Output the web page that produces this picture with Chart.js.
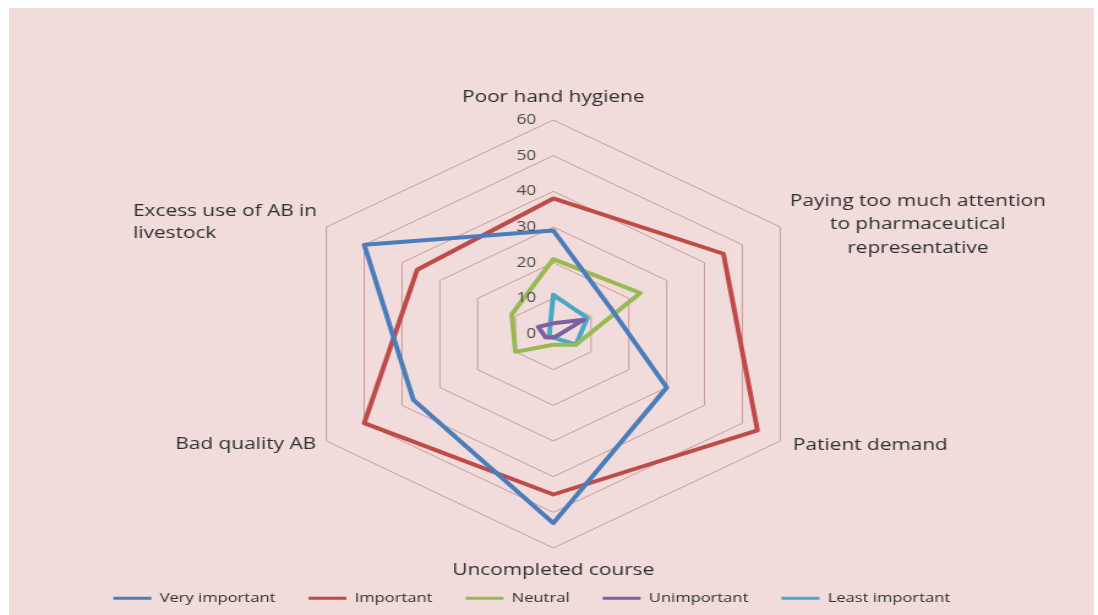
<!DOCTYPE html>
<html><head><meta charset="utf-8">
<script src="https://cdn.jsdelivr.net/npm/chart.js@4.4.1/dist/chart.umd.min.js"></script>
<style>
html,body{margin:0;padding:0;background:#fff;width:1098px;height:615px;overflow:hidden;}
#bg{position:absolute;left:9px;top:8px;width:1085px;height:607px;background:#f2dcdb;}
#wrap{position:absolute;left:0;top:0;width:897px;height:615px;transform-origin:0 0;transform:scaleX(1.22408);}
</style></head><body>
<div id="bg"></div>
<div id="wrap"><canvas id="c" width="897" height="615"></canvas></div>
<script>
const categories = [
  'Poor hand hygiene',
  ['Paying too much attention', 'to pharmaceutical', 'representative'],
  'Patient demand',
  'Uncompleted course',
  'Bad quality AB',
  ['Excess use of AB in', 'livestock']
];
const seriesNames = ['Very important', 'Important', 'Neutral', 'Unimportant', 'Least important'];
const veryImportant  = [29, 15, 30, 53, 37, 50];
const important      = [38, 45, 54, 45, 50, 36];
const neutral        = [21, 23, 6, 3, 10, 11];
const unimportant    = [3, 8, 1, 1, 2, 4];
const leastImportant = [11, 9, 6, 1, 1, 1];
const tickLabels = [0, 10, 20, 30, 40, 50, 60];

const seriesColors = ['#4a7ebb', '#be4b48', '#98b954', '#7d60a0', '#46aac5'];
const seriesValues = [veryImportant, important, neutral, unimportant, leastImportant];

// label placement relative to outer vertex (canvas px)
const labelLayout = [
  {align: 'center', dx: 0,     dy: -23, lh: 23.5},
  {align: 'center', dx: 112.5, dy: -26, lh: 23.5},
  {align: 'left',   dx: 10.5,  dy: 4,   lh: 23.5},
  {align: 'center', dx: 0,     dy: 22,  lh: 23.5},
  {align: 'right',  dx: -8.5,  dy: 3,   lh: 23.5},
  {align: 'left',   dx: -158,  dy: -16, lh: 22}
];

const axisText = {
  id: 'axisText',
  afterDraw(chart) {
    const r = chart.scales.r;
    const ctx = chart.ctx;
    ctx.save();
    ctx.font = '17px "Open Sans"';
    ctx.fillStyle = '#2e2e2e';
    ctx.textBaseline = 'middle';
    categories.forEach((cat, i) => {
      const p = r.getPointPosition(i, r.drawingArea);
      const L = labelLayout[i];
      const lines = Array.isArray(cat) ? cat : [cat];
      ctx.textAlign = L.align;
      lines.forEach((t, j) => ctx.fillText(t, p.x + L.dx, p.y + L.dy + j * L.lh));
    });
    ctx.font = '14px "Open Sans"';
    ctx.fillStyle = '#4a4a4a';
    ctx.textAlign = 'right';
    tickLabels.forEach(v => {
      ctx.fillText(String(v), r.xCenter - 14, r.yCenter - r.getDistanceFromCenterForValue(v));
    });
    ctx.restore();
  }
};

new Chart(document.getElementById('c'), {
  type: 'radar',
  data: {
    labels: categories,
    datasets: seriesNames.map((name, i) => ({
      label: name,
      data: seriesValues[i],
      borderColor: seriesColors[i],
      backgroundColor: seriesColors[i],
      borderWidth: 4,
      fill: false,
      pointRadius: 0,
      pointHoverRadius: 0,
      tension: 0,
      borderJoinStyle: 'round'
    }))
  },
  options: {
    responsive: false,
    animation: false,
    events: [],
    layout: {padding: {top: 120, left: 7, right: 0, bottom: 0}},
    scales: {
      r: {
        min: 0, max: 60,
        ticks: {display: false, stepSize: 10},
        grid: {color: '#c49c9b', lineWidth: 1},
        angleLines: {display: false},
        pointLabels: {display: false}
      }
    },
    plugins: {
      tooltip: {enabled: false},
      legend: {
        position: 'bottom',
        title: {display: true, text: '', font: {size: 10, lineHeight: 1}, padding: {top: 6.25, bottom: 0}},
        labels: {
          font: {family: '"Open Sans"', size: 13.5},
          color: '#2e2e2e',
          boxWidth: 31,
          boxHeight: 3,
          padding: 27,
          generateLabels(chart) {
            const items = Chart.defaults.plugins.legend.labels.generateLabels(chart);
            items.forEach(it => { it.lineWidth = 0; it.fillStyle = it.strokeStyle; });
            items[items.length - 1].text += '          ';
            return items;
          }
        }
      }
    }
  },
  plugins: [axisText]
});
</script>
</body></html>
